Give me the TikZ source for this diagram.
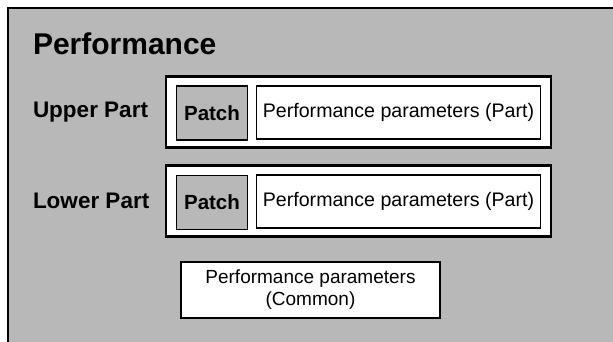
\documentclass[tikz,border=0pt]{standalone}
\usepackage{fontspec}
\setmainfont{Liberation Sans}
\usetikzlibrary{positioning}
\definecolor{screen}{gray}{0.72}
\begin{document}
\begin{tikzpicture}[x=1pt, y=-1pt]
\tikzset{
    every node/.style={inner sep=0pt, outer sep=0pt, align=center},
    partframe/.style={draw, line width=2.4pt, fill=white, minimum width=385pt, minimum height=71pt},
    patchbox/.style={draw, line width=1.8pt, fill=screen, minimum width=71pt, minimum height=54pt,
        font=\bfseries\fontsize{20.5}{22}\selectfont},
    parambox/.style={draw, line width=1.3pt, fill=white, minimum width=284pt, minimum height=53pt,
        font=\fontsize{19.6}{21}\selectfont},
    partlabel/.style={anchor=west, font=\bfseries\fontsize{22.5}{24}\selectfont}
}
\useasboundingbox (0,0) rectangle (613,342);

% screened panel
\fill[screen] (8,8) rectangle (613,342);
\draw[line width=2.4pt] (8,342) -- (8,8) -- (613,8);

\node[anchor=base west, font=\bfseries\fontsize{30}{32}\selectfont] (title) at (33,55) {Performance};

% upper part
\node[partlabel] (upperlabel) at (33,112) {Upper Part};
\node[partframe] (upper) at (358.5,112) {};
\node[patchbox] (upperpatch) at (212,113) {Patch};
\node[parambox] (upperparam) at (398.5,112.5) {Performance parameters (Part)};

% lower part
\node[partlabel] (lowerlabel) at (33,201) {Lower Part};
\node[partframe] (lower) at (358.5,201) {};
\node[patchbox] (lowerpatch) at (212,202.5) {Patch};
\node[parambox] (lowerparam) at (398.5,201.5) {Performance parameters (Part)};

% common
\node[draw, line width=2pt, fill=white, minimum width=259pt, minimum height=56pt,
      font=\fontsize{19}{22}\selectfont] (common) at (310.5,290) {Performance parameters\\(Common)};
\end{tikzpicture}
\end{document}
